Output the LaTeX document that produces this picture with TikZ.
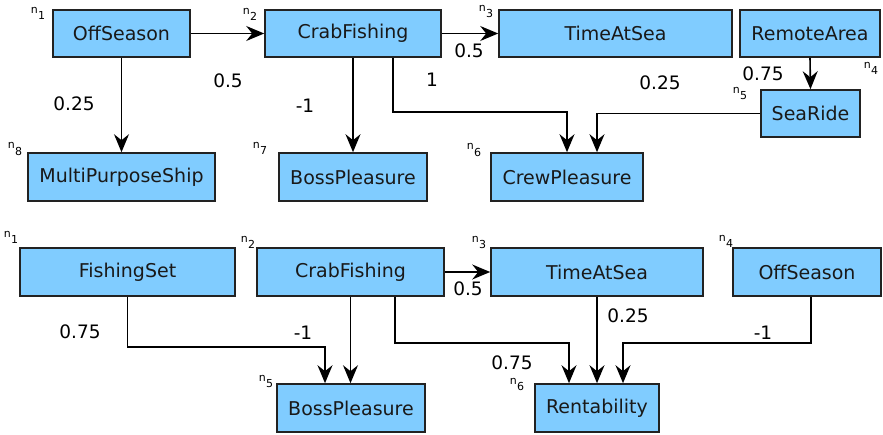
\documentclass[tikz,border=0pt]{standalone}
\usepackage{fontspec}
\setmainfont{DejaVu Sans}
\usetikzlibrary{arrows.meta}
\definecolor{boxfill}{HTML}{80CCFF}
\definecolor{boxline}{HTML}{222222}
\newcommand{\nlab}[1]{{\fontsize{11}{11}\selectfont n\kern0.5pt\raisebox{-6pt}{#1}}}
\tikzset{
  box/.style={draw=boxline, fill=boxfill, line width=1.6pt, inner sep=0pt, font=\fontsize{19}{19}\selectfont, text=black!90},
  conn/.style={line width=1.6pt, -{Stealth[length=18pt,width=15pt,inset=6pt]}},
  wt/.style={font=\fontsize{18.5}{18.5}\selectfont, inner sep=0pt},
  nl/.style={inner sep=0pt}
}
\begin{document}
\begin{tikzpicture}[x=1pt,y=-1pt]
\useasboundingbox (0,0) rectangle (883,435);
% ---------- top diagram ----------
\node[box, minimum width=137, minimum height=47] (a1) at (121.5,33.5) {OffSeason};
\node[box, minimum width=176, minimum height=47] (a2) at (353,33.5) {CrabFishing};
\node[box, minimum width=233, minimum height=47] (a3) at (615.5,33.5) {TimeAtSea};
\node[box, minimum width=140, minimum height=47] (a4) at (810,33.5) {RemoteArea};
\node[box, minimum width=99, minimum height=47] (a5) at (810.5,113.5) {SeaRide};
\node[box, minimum width=152, minimum height=48] (a6) at (567,177) {CrewPleasure};
\node[box, minimum width=148, minimum height=48] (a7) at (353,177) {BossPleasure};
\node[box, minimum width=187, minimum height=48] (a8) at (121.5,177) {MultiPurposeShip};

\draw[conn] (a1.east) -- (a2.west);
\draw[conn] (a1.south) -- (a8.north);
\draw[conn] (a2.south) -- (a7.north);
\draw[conn] (a2.east) -- (a3.west);
\draw[conn] ([xshift=40pt]a2.south) |- ([yshift=40pt]a6.north) -- (a6.north);
\draw[conn] (a5.west) -| ([xshift=30pt]a6.north);
\draw[conn] (a4.south) -- (a5.north);

\node[wt] (w1) at (228,81) {0.5};
\node[wt] (w2) at (74,104) {0.25};
\node[wt] (w3) at (305,106) {-1};
\node[wt] (w4) at (432,80) {1};
\node[wt] (w5) at (469,51) {0.5};
\node[wt] (w6) at (660,83) {0.25};
\node[wt] (w7) at (763,74) {0.75};

\node[nl] (l1) at (38,13) {\nlab{1}};
\node[nl] (l2) at (250,14) {\nlab{2}};
\node[nl] (l3) at (486,12) {\nlab{3}};
\node[nl] (l4) at (871,68) {\nlab{4}};
\node[nl] (l5) at (740,94) {\nlab{5}};
\node[nl] (l6) at (474,150) {\nlab{6}};
\node[nl] (l7) at (260,148) {\nlab{7}};
\node[nl] (l8) at (15,149) {\nlab{8}};

% ---------- bottom diagram ----------
\node[box, minimum width=215, minimum height=48] (b1) at (127.5,272) {FishingSet};
\node[box, minimum width=187, minimum height=48] (b2) at (350.5,272) {CrabFishing};
\node[box, minimum width=212, minimum height=48] (b3) at (597,272) {TimeAtSea};
\node[box, minimum width=148, minimum height=48] (b4) at (807,272) {OffSeason};
\node[box, minimum width=148, minimum height=48] (b5) at (351,408) {BossPleasure};
\node[box, minimum width=124, minimum height=48] (b6) at (597,408) {Rentability};

\draw[conn] (b1.south) |- ([xshift=-26pt,yshift=36pt]b5.north) -- ([xshift=-26pt]b5.north);
\draw[conn] (b2.south) -- (b2.south |- b5.north);
\draw[conn] (b2.east) -- (b3.west);
\draw[conn] ([xshift=44.5pt]b2.south) |- ([xshift=-28pt,yshift=40pt]b6.north) -- ([xshift=-28pt]b6.north);
\draw[conn] (b3.south) -- (b6.north);
\draw[conn] ([xshift=4pt]b4.south) |- ([xshift=26pt,yshift=40pt]b6.north) -- ([xshift=26pt]b6.north);

\node[wt] (v1) at (80,332) {0.75};
\node[wt] (v2) at (303,333) {-1};
\node[wt] (v3) at (468,289) {0.5};
\node[wt] (v4) at (628,316) {0.25};
\node[wt] (v5) at (763,333) {-1};
\node[wt] (v6) at (512,363) {0.75};

\node[nl] (m1) at (11,237) {\nlab{1}};
\node[nl] (m2) at (248,242) {\nlab{2}};
\node[nl] (m3) at (479,242) {\nlab{3}};
\node[nl] (m4) at (726,241) {\nlab{4}};
\node[nl] (m5) at (266,381) {\nlab{5}};
\node[nl] (m6) at (517,384) {\nlab{6}};
\end{tikzpicture}
\end{document}
